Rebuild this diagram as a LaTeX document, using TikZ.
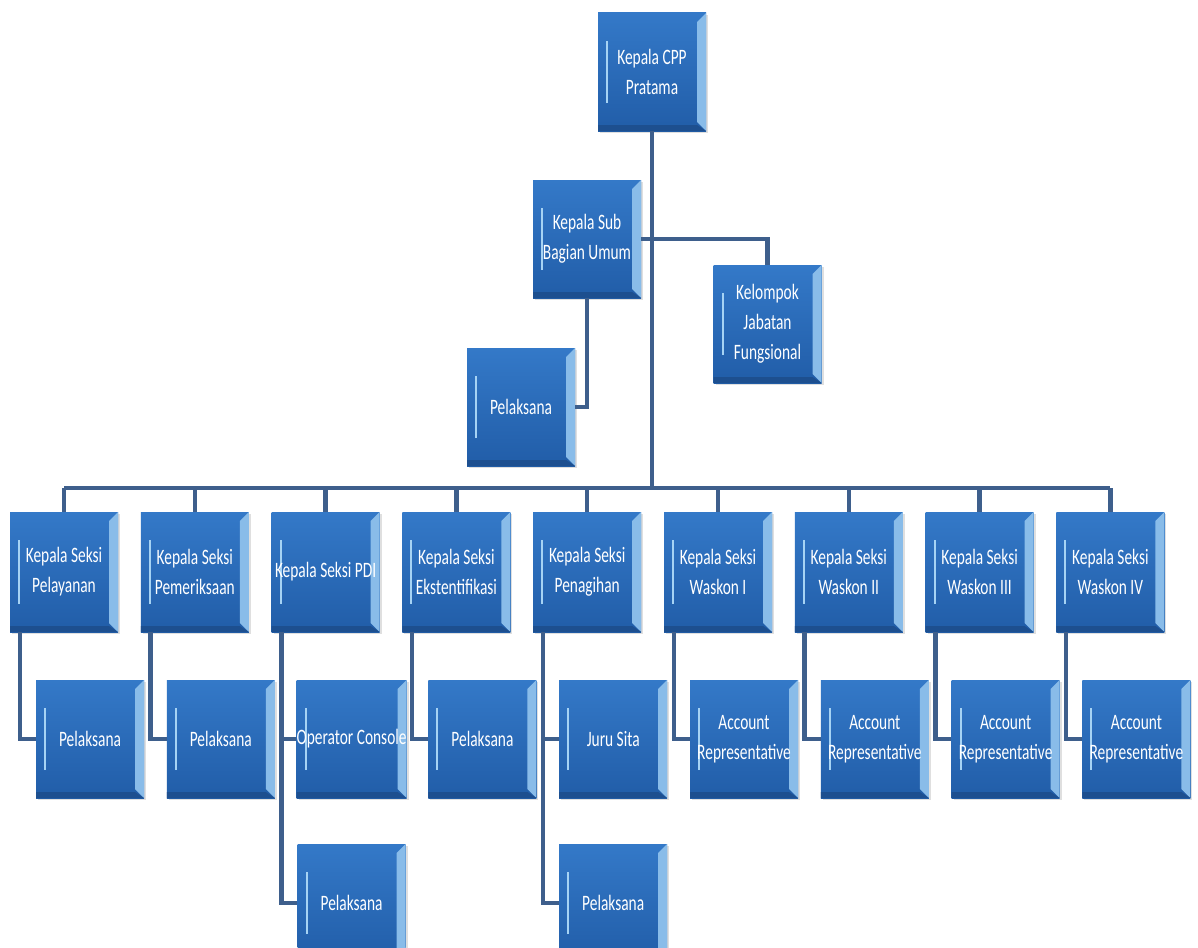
\documentclass[tikz,border=0pt]{standalone}
\usepackage{fontspec}
\newfontfamily\boxfont[FakeStretch=0.7]{Carlito}
\usetikzlibrary{calc,shadows}
\definecolor{boxtop}{HTML}{3479C8}
\definecolor{boxbot}{HTML}{215DA8}
\definecolor{bevel}{HTML}{A6D3F4}
\definecolor{bevdark}{HTML}{1D4F8F}
\definecolor{linec}{HTML}{3E5F8C}
\tikzset{
  box/.style={rectangle, minimum width=108pt, minimum height=118pt, inner sep=0pt,
    top color=boxtop, bottom color=boxbot, text=white, align=center,
    font=\boxfont\fontsize{22}{30}\selectfont,
    drop shadow={shadow xshift=2pt, shadow yshift=-2pt, opacity=0.25},
    path picture={
      \fill[bevel!75!boxtop] (path picture bounding box.north east)
        -- ([xshift=-9pt,yshift=-9pt]path picture bounding box.north east)
        -- ([xshift=-9pt,yshift=9pt]path picture bounding box.south east)
        -- (path picture bounding box.south east) -- cycle;
      \fill[bevdark] (path picture bounding box.south west)
        -- (path picture bounding box.south east)
        -- ([xshift=-9pt,yshift=6pt]path picture bounding box.south east)
        -- ([yshift=6pt]path picture bounding box.south west) -- cycle;
      \draw[bevel, line width=2pt]
        ([xshift=9pt,yshift=-28pt]path picture bounding box.north west)
        -- ([xshift=9pt,yshift=28pt]path picture bounding box.south west);
    }},
  conn/.style={draw=linec, line width=4.5pt}
}
\begin{document}
\begin{tikzpicture}[x=1pt,y=-1pt]
\clip (0,0) rectangle (1198,947);
\fill[white] (0,0) rectangle (1198,947);

% top levels
\node[box] (top) at (652,72) {Kepala CPP\\Pratama};
\node[box] (sub) at (587,239) {Kepala Sub\\Bagian Umum};
\node[box] (kel) at (767.5,324) {Kelompok\\Jabatan\\Fungsional};
\node[box] (p0) at (521,407) {Pelaksana};

% section heads
\node[box, minimum height=120pt] (k1) at (64,572) {Kepala Seksi\\Pelayanan};
\node[box, minimum height=120pt] (k2) at (194.8,572) {Kepala Seksi\\Pemeriksaan};
\node[box, minimum height=120pt] (k3) at (325.6,572) {Kepala Seksi PDI};
\node[box, minimum height=120pt] (k4) at (456.4,572) {Kepala Seksi\\Ekstentifikasi};
\node[box, minimum height=120pt] (k5) at (587.2,572) {Kepala Seksi\\Penagihan};
\node[box, minimum height=120pt] (k6) at (718,572) {Kepala Seksi\\Waskon I};
\node[box, minimum height=120pt] (k7) at (848.8,572) {Kepala Seksi\\Waskon II};
\node[box, minimum height=120pt] (k8) at (979.6,572) {Kepala Seksi\\Waskon III};
\node[box, minimum height=120pt] (k9) at (1110.4,572) {Kepala Seksi\\Waskon IV};

% children
\node[box] (c1) at (90,739) {Pelaksana};
\node[box] (c2) at (220.8,739) {Pelaksana};
\node[box] (c3) at (351.6,739) {Operator Console};
\node[box] (c4) at (482.4,739) {Pelaksana};
\node[box] (c5) at (613.2,739) {Juru Sita};
\node[box] (c6) at (744,739) {Account\\Representative};
\node[box] (c7) at (874.8,739) {Account\\Representative};
\node[box] (c8) at (1005.6,739) {Account\\Representative};
\node[box] (c9) at (1136.4,739) {Account\\Representative};
\node[box] (c3b) at (351.6,903) {Pelaksana};
\node[box] (c5b) at (613.2,903) {Pelaksana};

% connectors
\coordinate (bus) at (652,488);
\draw[conn] (top.south) -- (bus);
\draw[conn] (sub.east) -| (kel.north);
\draw[conn] (sub.south) |- (p0.east);
\draw[conn] (k1.north |- bus) -- (k9.north |- bus);
\foreach \k in {1,...,9}{
  \draw[conn] (k\k.north |- bus) -- (k\k.north);
  \draw[conn] ([xshift=10pt]k\k.south west) |- (c\k.west);
}
\draw[conn] ([xshift=10pt]k3.south west) |- (c3b.west);
\draw[conn] ([xshift=10pt]k5.south west) |- (c5b.west);
\end{tikzpicture}
\end{document}
